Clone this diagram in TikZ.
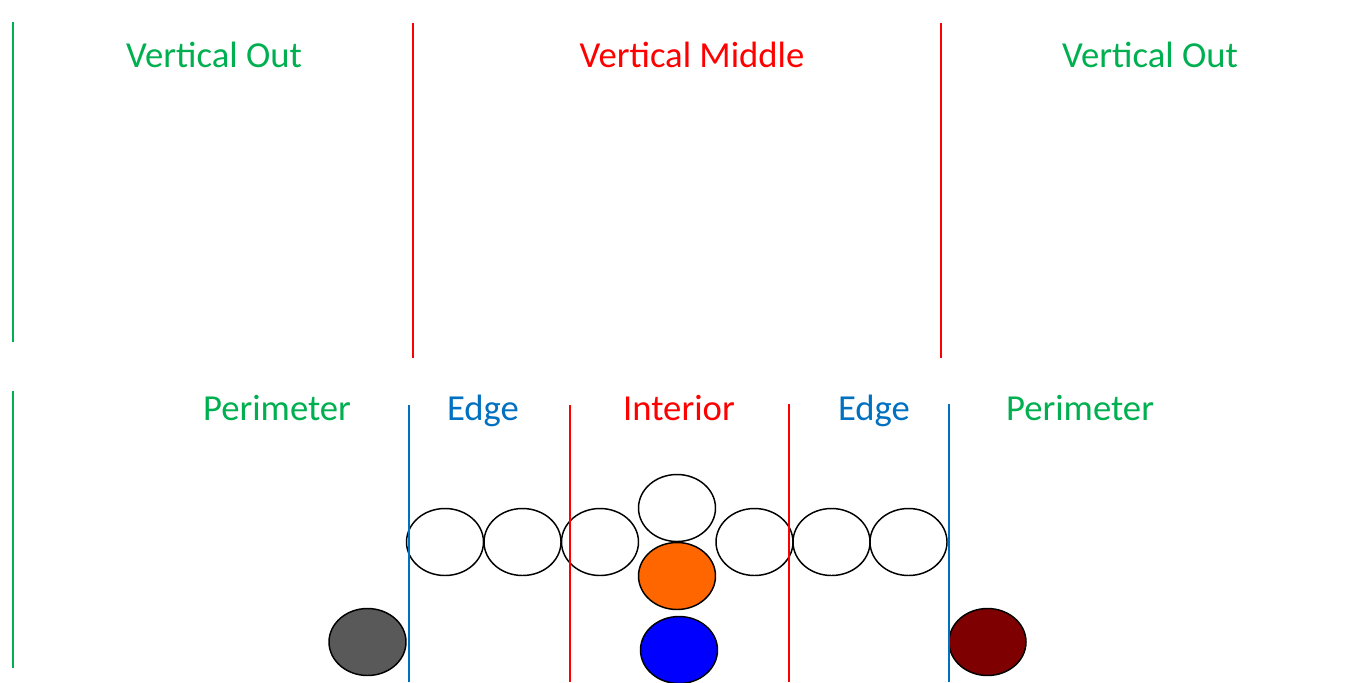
\documentclass[tikz,border=0pt]{standalone}
\usepackage{fontspec}
\setmainfont{Carlito}
\usetikzlibrary{shapes.geometric}
\definecolor{zgreen}{HTML}{00B050}
\definecolor{zred}{HTML}{FF0000}
\definecolor{zblue}{HTML}{0070C0}
\definecolor{zorange}{HTML}{FF6600}
\definecolor{zgray}{HTML}{595959}
\definecolor{zmaroon}{HTML}{7F0000}
\tikzset{
  lbl/.style={anchor=base,inner sep=0pt,font=\fontsize{27.5}{33}\selectfont},
  ball/.style={draw=black,line width=1.1pt,ellipse,inner sep=0pt,minimum width=57.75pt,minimum height=50.25pt},
  divider/.style={line width=1.6pt}
}
\begin{document}
\begin{tikzpicture}[x=0.75pt,y=-0.75pt]
  \useasboundingbox (0,0) rectangle (1358,682);
  % top zones
  \draw[divider,zgreen] (13,22) -- (13,342);
  \draw[divider,zred] (413,23) -- (413,358); \draw[divider,zred] (941,23) -- (941,358);
  \node[lbl,text=zgreen] (vol) at (214,67) {Vertical Out};
  \node[lbl,text=zred] (vm) at (692,67) {Vertical Middle};
  \node[lbl,text=zgreen] (vor) at (1150,67) {Vertical Out};
  % balls
  \node[ball] (r1) at (445,542) {}; \node[ball] (r2) at (522.5,542) {}; \node[ball] (r3) at (600,542) {};
  \node[ball] (r5) at (754.5,542) {}; \node[ball] (r6) at (831.5,542) {}; \node[ball] (r7) at (908.5,542) {};
  \node[ball] (up) at (677,508) {};
  \node[ball,fill=zorange] (or) at (677,576) {};
  \node[ball,fill=blue] (bl) at (679,650) {};
  \node[ball,fill=zgray] (gr) at (367.5,642) {};
  \node[ball,fill=zmaroon] (mr) at (987.5,642) {};
  % bottom zones
  \draw[line width=1.1pt,zgreen] (13,391) -- (13,668);
  \draw[line width=1.1pt,zblue] (409,405) -- (409,682); \draw[line width=1.1pt,zred] (570,405) -- (570,682);
  \draw[divider,zred] (789,404) -- (789,682); \draw[divider,zblue] (949,404) -- (949,682);
  \node[lbl,text=zgreen] (pl) at (277,420) {Perimeter};
  \node[lbl,text=zblue] (el) at (483,420) {Edge};
  \node[lbl,text=zred] (in) at (679,420) {Interior};
  \node[lbl,text=zblue] (er) at (874,420) {Edge};
  \node[lbl,text=zgreen] (pr) at (1080,420) {Perimeter};
\end{tikzpicture}
\end{document}
